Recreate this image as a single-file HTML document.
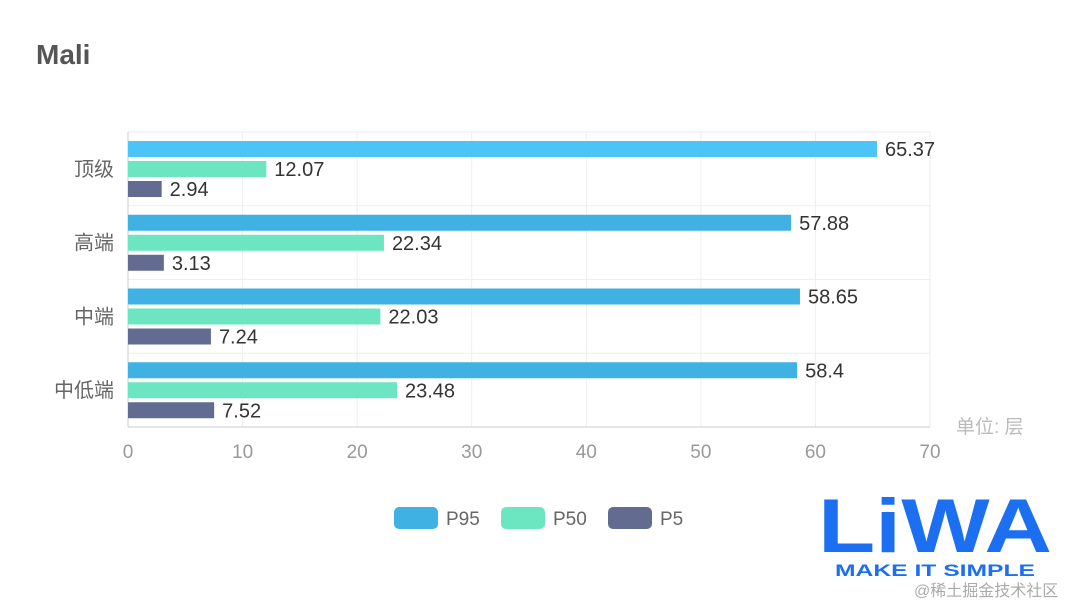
<!DOCTYPE html>
<html><head><meta charset="utf-8"><style>
body{margin:0;background:#fff;}
svg{display:block;font-family:"Liberation Sans","Noto Sans CJK SC",sans-serif;}
</style></head><body>
<svg id="chart" width="1080" height="605" viewBox="0 0 1080 605">
<text x="36" y="64" font-size="28" font-weight="bold" fill="#555">Mali</text>
<g id="grid"></g>
<g id="bars"></g>
<g id="labels"></g>
<text x="956" y="433" font-size="19" fill="#bbb">单位: 层</text>
<g>
 <g><rect x="394" y="507" width="44" height="22" rx="5" fill="#3fb1e3"/><text x="446" y="525" font-size="19" fill="#666">P95</text></g>
 <g><rect x="501" y="507" width="44" height="22" rx="5" fill="#6be6c1"/><text x="553" y="525" font-size="19" fill="#666">P50</text></g>
 <g><rect x="608" y="507" width="44" height="22" rx="5" fill="#626c91"/><text x="660" y="525" font-size="19" fill="#666">P5</text></g>
</g>
<g>
 <text x="818" y="552" font-size="76" font-weight="bold" fill="#1d6ff2" textLength="234" lengthAdjust="spacingAndGlyphs">LiWA</text>
 <text x="835" y="576" font-size="17" font-weight="bold" fill="#1d6ff2" textLength="200" lengthAdjust="spacingAndGlyphs">MAKE IT SIMPLE</text>
</g>
<text x="914" y="596" font-size="16" fill="#aaa">@稀土掘金技术社区</text>
</svg>
<script>
const categories=["顶级","高端","中端","中低端"];
const p95=[65.37,57.88,58.65,58.4];
const p50=[12.07,22.34,22.03,23.48];
const p5=[2.94,3.13,7.24,7.52];
const ticks=[0,10,20,30,40,50,60,70];
const NS="http://www.w3.org/2000/svg";
const x0=128,x1=930,yTop=132,yBot=427,xMax=70;
const band=(yBot-yTop)/categories.length;
const xs=v=>x0+v/xMax*(x1-x0);
function mk(tag,attrs,parent){const e=document.createElementNS(NS,tag);for(const k in attrs)e.setAttribute(k,attrs[k]);parent.appendChild(e);return e;}
const grid=document.getElementById('grid'),bars=document.getElementById('bars'),labels=document.getElementById('labels');
ticks.forEach(t=>{
 const l=mk('line',{x1:xs(t),x2:xs(t),y1:yTop,y2:yBot,stroke:'#eee'},grid);
 
 
 const tx=mk('text',{x:xs(t),y:458,'font-size':19,fill:'#999','text-anchor':'middle'},labels);
 tx.textContent=t;
 
 
});
for(let i=0;i<=categories.length;i++){
 const y=yTop+i*band;
 const l=mk('line',{x1:x0,x2:x1,y1:y,y2:y,stroke:i==categories.length?'#ccc':'#eee'},grid);
 
 
}
const ax=mk('line',{x1:x0,x2:x0,y1:yTop,y2:yBot,stroke:'#ccc'},grid);


const series=[{d:p95,c:'#3fb1e3',n:'p95'},{d:p50,c:'#6be6c1',n:'p50'},{d:p5,c:'#626c91',n:'p5'}];
categories.forEach((cat,i)=>{
 const by=yTop+i*band;
 const ct=mk('text',{x:114,y:by+band/2+7,'font-size':20,fill:'#666','text-anchor':'end'},labels);
 ct.textContent=cat;
 
 
 series.forEach((s,j)=>{
  const y=by+9+j*20;
  const col=(i==0&&j==0)?'#4cc4f6':s.c;
  const r=mk('rect',{x:x0,y:y,width:xs(s.d[i])-x0,height:16,fill:col},bars);
  
  
  const t=mk('text',{x:xs(s.d[i])+8,y:y+15,'font-size':20,fill:'#333'},labels);
  t.textContent=s.d[i];
  
  
 });
});
</script>
</body></html>
